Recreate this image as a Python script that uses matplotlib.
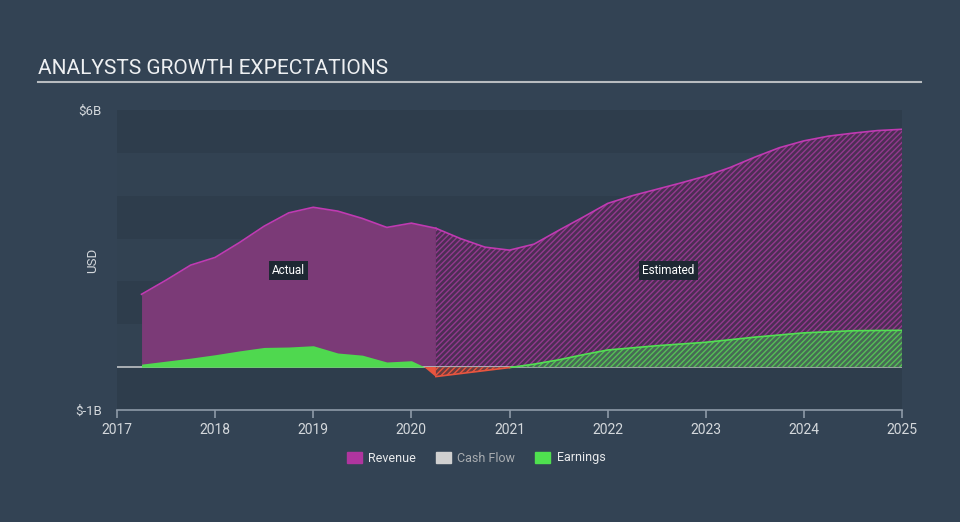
import matplotlib.pyplot as plt
import numpy as np
from matplotlib.patches import Patch

plt.rcParams['font.family'] = ['Roboto', 'DejaVu Sans']
plt.rcParams['hatch.linewidth'] = 1.0

# datos (miles de millones USD)
rev_actual_x = [2017.25, 2017.5, 2017.75, 2018.0, 2018.25, 2018.5, 2018.75,
                2019.0, 2019.25, 2019.5, 2019.75, 2020.0, 2020.25]
rev_actual = [1.70, 2.03, 2.38, 2.56, 2.91, 3.29, 3.60,
              3.73, 3.64, 3.47, 3.26, 3.36, 3.24]

rev_est_x = [2020.25, 2020.5, 2020.75, 2021.0, 2021.25, 2021.5, 2021.75,
             2022.0, 2022.25, 2022.5, 2022.75, 2023.0, 2023.25, 2023.5,
             2023.75, 2024.0, 2024.25, 2024.5, 2024.75, 2025.0]
rev_est = [3.24, 3.00, 2.80, 2.73, 2.87, 3.19, 3.50,
           3.82, 4.00, 4.15, 4.30, 4.46, 4.66, 4.90,
           5.12, 5.28, 5.39, 5.46, 5.52, 5.55]

earn_actual_x = [2017.25, 2017.5, 2017.75, 2018.0, 2018.25, 2018.5, 2018.75,
                 2019.0, 2019.25, 2019.5, 2019.75, 2020.0, 2020.12, 2020.25]
earn_actual = [0.07, 0.14, 0.21, 0.29, 0.38, 0.46, 0.47,
               0.50, 0.33, 0.28, 0.12, 0.15, 0.02, -0.22]

earn_est_x = [2020.25, 2020.5, 2020.75, 2021.0, 2021.25, 2021.5, 2021.75,
              2022.0, 2022.5, 2023.0, 2023.5, 2024.0, 2024.5, 2025.0]
earn_est = [-0.22, -0.15, -0.08, -0.01, 0.07, 0.17, 0.29,
            0.40, 0.50, 0.58, 0.70, 0.80, 0.85, 0.86]

years = list(range(2017, 2026))

# colores
BG = '#334354'
BAND_A = '#2e3d4c'
BAND_B = '#324252'
REV_FILL = '#7b3a77'
REV_EST_FILL = '#4c2e54'
REV_EST_HATCH = '#93398e'
REV_LINE = '#c03ab2'
EARN_FILL = '#4fd84f'
EARN_EST_FILL = '#476a55'
EARN_EST_HATCH = '#55c055'
EARN_LINE = '#52e052'
NEG = '#e8553f'
TXT = '#d4d8dc'

fig = plt.figure(figsize=(9.6, 5.22), dpi=100, facecolor=BG)
ax = fig.add_axes([117 / 960, 1 - 410 / 522, 785 / 960, 300 / 522])
ax.set_facecolor(BAND_A)

# bandas horizontales de fondo
for i, lo in enumerate(range(-1, 6)):
    ax.axhspan(lo, lo + 1, color=BAND_A if i % 2 == 0 else BAND_B, lw=0, zorder=0)

# revenue
ax.fill_between(rev_actual_x, 0, rev_actual, color=REV_FILL, lw=0, zorder=2)
ax.fill_between(rev_est_x, 0, rev_est, facecolor=REV_EST_FILL, edgecolor=REV_EST_HATCH,
                hatch='//////', lw=0, zorder=2)
ax.plot(rev_actual_x, rev_actual, color=REV_LINE, lw=1.2, zorder=3)
ax.plot(rev_est_x, rev_est, color=REV_LINE, lw=1.2, zorder=3)

# earnings (positivo verde, negativo rojo)
ea = np.array(earn_actual)
ee = np.array(earn_est)
ax.fill_between(earn_actual_x, 0, ea, where=ea >= 0, interpolate=True,
                color=EARN_FILL, lw=0, zorder=4)
ax.fill_between(earn_actual_x, 0, ea, where=ea <= 0, interpolate=True,
                color=NEG, lw=0, zorder=4)
ax.fill_between(earn_est_x, 0, ee, where=ee >= 0, interpolate=True,
                facecolor=EARN_EST_FILL, edgecolor=EARN_EST_HATCH, hatch='//////', lw=0, zorder=4)
ax.fill_between(earn_est_x, 0, ee, where=ee <= 0, interpolate=True,
                facecolor='#6a3c40', edgecolor=NEG, hatch='//////', lw=0, zorder=4)
ax.plot(earn_est_x[3:], earn_est[3:], color=EARN_LINE, lw=1.2, zorder=5)
ax.plot(earn_est_x[:4], earn_est[:4], color=NEG, lw=1.2, zorder=5)

# linea del cero (cash flow)
ax.axhline(0, color='#b4b8bc', lw=1.3, zorder=3.5)

ax.set_xlim(2017, 2025)
ax.set_ylim(-1, 6)

ax.text(2018.75, 2.25, 'Actual', color='white', fontsize=8.5, ha='center', va='center',
        zorder=6, bbox=dict(boxstyle='square,pad=0.25', fc='#1e2833', ec='none'))
ax.text(2022.62, 2.25, 'Estimated', color='white', fontsize=8.5, ha='center', va='center',
        zorder=6, bbox=dict(boxstyle='square,pad=0.25', fc='#1e2833', ec='none'))

# ejes
for s in ['top', 'right', 'left']:
    ax.spines[s].set_visible(False)
ax.spines['bottom'].set_color('#8e9aa8')
ax.spines['bottom'].set_linewidth(1.2)
ax.set_xticks(years)
ax.set_xticklabels([str(y) for y in years])
ax.tick_params(axis='x', colors='#8e9aa8', labelcolor=TXT, labelsize=10, length=6, width=1.2)
ax.set_yticks([6, -1])
ax.set_yticklabels(['$6B', '$-1B'])
ax.tick_params(axis='y', length=0, pad=11, labelcolor=TXT, labelsize=9.5)
ax.set_ylabel('USD', color=TXT, fontsize=9.5)
ax.yaxis.set_label_coords(-0.023, 0.5)

# titulo y linea
fig.text(38 / 960, 1 - 69 / 522, 'ANALYSTS GROWTH EXPECTATIONS', color='#eef0f2',
         fontsize=15, va='center', ha='left')
fig.add_artist(plt.Line2D([38 / 960, 921 / 960], [1 - 82 / 522] * 2, color='#b8bcc0', lw=1.5))

# leyenda
handles = [Patch(color='#b0359f'), Patch(color='#d0d0d0'), Patch(color='#4fe04f')]
leg = fig.legend(handles, ['Revenue', 'Cash Flow', 'Earnings'], loc='center',
                 bbox_to_anchor=(0.496, 1 - 458 / 522), ncol=3, frameon=False,
                 fontsize=9, handlelength=1.2, handleheight=1.0, columnspacing=1.6,
                 handletextpad=0.5)
for t, c in zip(leg.get_texts(), ['#e8eaec', '#a8acb0', '#e8eaec']):
    t.set_color(c)

fig.savefig('out.png', dpi=100, facecolor=BG)
